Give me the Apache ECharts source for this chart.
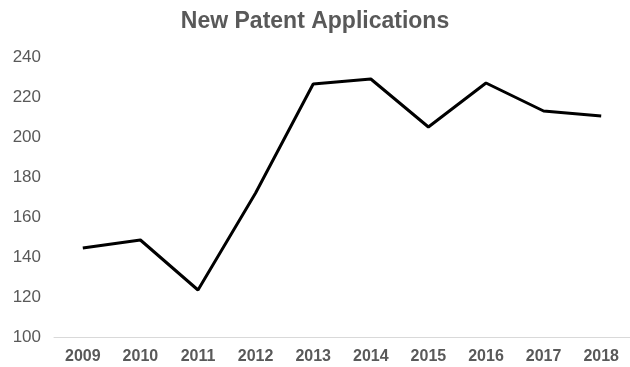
<!DOCTYPE html>
<html><head><meta charset="utf-8">
<script src="https://cdn.jsdelivr.net/npm/echarts@6/dist/echarts.min.js"></script>
<style>html,body{margin:0;padding:0;background:#fff}#c{width:630px;height:367px}</style>
</head><body><div id="c"></div>
<script>
const title = 'New Patent Applications';
const years = ['2009','2010','2011','2012','2013','2014','2015','2016','2017','2018'];
const applications = [144.5, 148.5, 123.5, 172, 226.5, 229, 205, 227, 213, 210.5];
const yMin = 100, yMax = 240, yStep = 20;

const chart = echarts.init(document.getElementById('c'), null, {renderer:'canvas'});
chart.setOption({
  animation: false,
  backgroundColor: '#fff',
  title: {
    text: title, left: 'center', top: 5,
    textStyle: {fontFamily: 'Liberation Sans, Arial, sans-serif', fontWeight: 'bold', fontSize: 23, color: '#595959'}
  },
  grid: {left: 54, right: -12, top: 57, bottom: 30, containLabel: false},
  xAxis: {
    type: 'category', data: years, boundaryGap: true,
    axisLine: {lineStyle: {color: '#d9d9d9', width: 1}},
    axisTick: {show: false},
    axisLabel: {color: '#595959', fontSize: 16, fontWeight: 'bold', fontFamily: 'Liberation Sans, Arial, sans-serif', margin: 12}
  },
  yAxis: {
    type: 'value', min: yMin, max: yMax, interval: yStep,
    axisLine: {show: false}, axisTick: {show: false},
    splitLine: {show: false},
    axisLabel: {color: '#595959', fontSize: 17, fontFamily: 'Liberation Sans, Arial, sans-serif', margin: 13}
  },
  series: [{
    type: 'line', data: applications, showSymbol: false, symbol: 'none',
    lineStyle: {color: '#000', width: 3}
  }]
});
</script></body></html>
